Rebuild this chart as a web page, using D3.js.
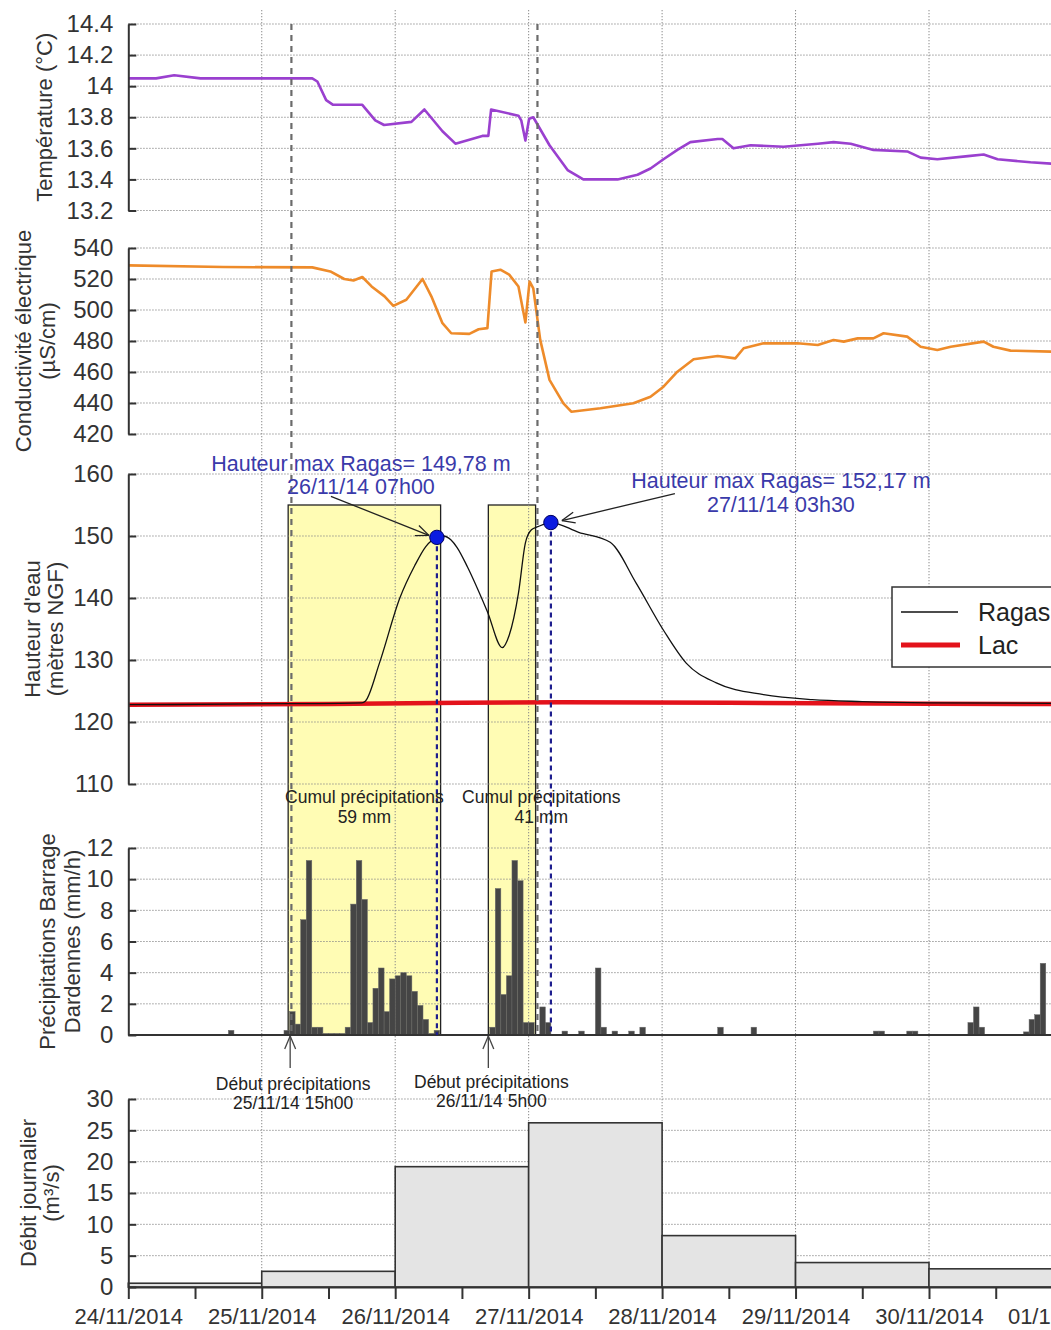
<!DOCTYPE html>
<html><head><meta charset="utf-8">
<script src="https://cdn.jsdelivr.net/npm/d3@7"></script>
<style>
html,body{margin:0;padding:0;background:#fff;overflow:hidden}
svg{display:block}
text{font-family:"Liberation Sans",Arial,sans-serif}
</style></head><body>
<svg id="chart" width="1051" height="1330"></svg>
<script>
// ---------------- DATA ----------------
const dayLabels = ["2014-11-24","2014-11-25","2014-11-26","2014-11-27","2014-11-28","2014-11-29","2014-11-30","2014-12-01"];
const tempTicks = [13.2,13.4,13.6,13.8,14.0,14.2,14.4];
const condTicks = [420,440,460,480,500,520,540];
const hautTicks = [110,120,130,140,150,160];
const precTicks = [0,2,4,6,8,10,12];
const debitTicks = [0,5,10,15,20,25,30];

const temperature = [
 ["2014-11-24 00:00",14.05],["2014-11-24 05:00",14.05],["2014-11-24 08:15",14.07],["2014-11-24 13:00",14.05],
 ["2014-11-25 09:05",14.05],["2014-11-25 10:00",14.03],["2014-11-25 11:35",13.91],["2014-11-25 12:50",13.88],
 ["2014-11-25 18:05",13.88],["2014-11-25 20:25",13.78],["2014-11-25 22:00",13.75],["2014-11-26 02:55",13.77],
 ["2014-11-26 05:15",13.85],["2014-11-26 08:30",13.71],["2014-11-26 10:50",13.63],["2014-11-26 15:40",13.68],
 ["2014-11-26 16:45",13.68],["2014-11-26 17:15",13.85],["2014-11-26 22:10",13.81],["2014-11-26 22:40",13.78],
 ["2014-11-26 23:25",13.65],["2014-11-27 00:05",13.79],["2014-11-27 00:50",13.80],["2014-11-27 03:45",13.62],
 ["2014-11-27 07:00",13.46],["2014-11-27 09:50",13.40],["2014-11-27 16:00",13.40],["2014-11-27 19:35",13.43],
 ["2014-11-27 21:55",13.47],["2014-11-28 00:15",13.53],["2014-11-28 02:45",13.59],["2014-11-28 05:05",13.64],
 ["2014-11-28 10:00",13.66],["2014-11-28 10:50",13.66],["2014-11-28 12:50",13.60],["2014-11-28 15:55",13.62],
 ["2014-11-28 21:50",13.61],["2014-11-29 04:00",13.63],["2014-11-29 06:50",13.64],["2014-11-29 09:55",13.63],
 ["2014-11-29 14:00",13.59],["2014-11-29 20:05",13.58],["2014-11-29 22:30",13.54],["2014-11-30 01:30",13.53],
 ["2014-11-30 07:00",13.55],["2014-11-30 09:50",13.56],["2014-11-30 12:20",13.53],["2014-11-30 18:15",13.51],
 ["2014-11-30 22:45",13.50]
];

const conductivity = [
 ["2014-11-24 00:00",528.8],["2014-11-24 17:05",527.7],["2014-11-25 09:05",527.5],["2014-11-25 12:20",524.9],
 ["2014-11-25 14:50",520.0],["2014-11-25 16:30",519.0],["2014-11-25 18:05",521.3],["2014-11-25 19:45",515.2],
 ["2014-11-25 22:05",508.8],["2014-11-25 23:40",502.7],["2014-11-26 02:00",506.6],["2014-11-26 04:55",520.0],
 ["2014-11-26 06:30",508.8],["2014-11-26 08:30",491.5],["2014-11-26 10:05",485.0],["2014-11-26 13:20",484.6],
 ["2014-11-26 15:00",487.6],["2014-11-26 16:35",488.3],["2014-11-26 17:20",524.9],["2014-11-26 18:55",526.0],
 ["2014-11-26 20:30",522.8],["2014-11-26 22:10",515.2],["2014-11-26 23:25",492.0],["2014-11-27 00:10",518.4],
 ["2014-11-27 00:50",514.0],["2014-11-27 02:05",480.7],["2014-11-27 03:45",454.9],["2014-11-27 06:15",439.8],
 ["2014-11-27 07:40",434.4],["2014-11-27 12:55",436.6],["2014-11-27 18:50",439.8],["2014-11-27 21:55",444.0],
 ["2014-11-28 00:15",450.5],["2014-11-28 02:45",460.2],["2014-11-28 05:40",468.2],["2014-11-28 10:00",470.3],
 ["2014-11-28 13:10",468.8],["2014-11-28 14:40",475.3],["2014-11-28 18:15",478.5],["2014-11-29 00:20",478.5],
 ["2014-11-29 04:00",477.4],["2014-11-29 06:50",480.6],["2014-11-29 08:40",479.6],["2014-11-29 11:10",481.7],
 ["2014-11-29 14:00",481.7],["2014-11-29 15:50",485.0],["2014-11-29 20:05",482.8],["2014-11-29 22:30",476.3],
 ["2014-11-30 01:30",474.2],["2014-11-30 03:55",476.3],["2014-11-30 09:50",479.6],["2014-11-30 11:35",476.3],
 ["2014-11-30 14:40",473.8],["2014-11-30 22:45",473.1]
];

const ragas = [
 ["2014-11-24 00:00",122.8],["2014-11-25 05:00",122.95],["2014-11-25 18:00",123.1],["2014-11-25 18:40",123.4],
 ["2014-11-25 21:10",129.5],["2014-11-26 00:50",140.0],["2014-11-26 03:30",145.2],["2014-11-26 05:30",148.3],
 ["2014-11-26 07:30",149.78],["2014-11-26 08:40",150.0],["2014-11-26 10:00",149.4],["2014-11-26 11:10",148.1],
 ["2014-11-26 13:00",145.0],["2014-11-26 16:35",137.8],["2014-11-26 19:15",132.0],["2014-11-26 20:30",134.0],
 ["2014-11-26 22:10",140.8],["2014-11-26 23:25",148.9],["2014-11-27 00:30",151.0],["2014-11-27 01:40",151.5],
 ["2014-11-27 04:00",152.17],["2014-11-27 09:00",150.6],["2014-11-27 14:40",149.0],["2014-11-27 19:20",142.4],
 ["2014-11-28 00:15",134.8],["2014-11-28 04:20",129.5],["2014-11-28 09:45",126.3],["2014-11-28 18:15",124.4],
 ["2014-11-29 03:00",123.6],["2014-11-29 12:00",123.3],["2014-11-30 00:00",123.1],["2014-12-01 00:00",123.0]
];

const lac = [
 ["2014-11-24 00:00",122.8],["2014-11-25 12:00",122.9],["2014-11-26 12:00",123.1],["2014-11-27 06:00",123.2],
 ["2014-11-28 12:00",123.1],["2014-11-30 00:00",122.95],["2014-12-01 00:00",122.9]
];

const precipHourly = [
 ["2014-11-24 18:00",0.3],["2014-11-25 04:00",0.3],["2014-11-25 05:00",1.5],["2014-11-25 06:00",0.7],
 ["2014-11-25 07:00",7.4],["2014-11-25 08:00",11.2],["2014-11-25 09:00",0.5],["2014-11-25 10:00",0.5],
 ["2014-11-25 11:00",0.1],["2014-11-25 12:00",0.1],["2014-11-25 13:00",0.1],["2014-11-25 14:00",0.1],
 ["2014-11-25 15:00",0.5],["2014-11-25 16:00",8.4],["2014-11-25 17:00",11.2],["2014-11-25 18:00",8.7],
 ["2014-11-25 19:00",0.8],["2014-11-25 20:00",3.0],["2014-11-25 21:00",4.3],["2014-11-25 22:00",1.5],
 ["2014-11-25 23:00",3.6],["2014-11-26 00:00",3.8],["2014-11-26 01:00",4.0],["2014-11-26 02:00",3.8],
 ["2014-11-26 03:00",2.8],["2014-11-26 04:00",1.9],["2014-11-26 05:00",1.0],["2014-11-26 06:00",0.1],
 ["2014-11-26 07:00",0.3],
 ["2014-11-26 17:00",0.5],["2014-11-26 18:00",9.4],["2014-11-26 19:00",2.6],["2014-11-26 20:00",3.8],
 ["2014-11-26 21:00",11.2],["2014-11-26 22:00",9.9],["2014-11-26 23:00",0.8],["2014-11-27 00:00",0.8],
 ["2014-11-27 02:00",1.8],["2014-11-27 03:00",0.8],["2014-11-27 06:00",0.25],["2014-11-27 09:00",0.25],
 ["2014-11-27 12:00",4.3],["2014-11-27 13:00",0.5],["2014-11-27 15:00",0.25],["2014-11-27 18:00",0.25],
 ["2014-11-27 20:00",0.5],["2014-11-28 10:00",0.5],["2014-11-28 16:00",0.5],
 ["2014-11-29 14:00",0.25],["2014-11-29 15:00",0.25],["2014-11-29 20:00",0.25],["2014-11-29 21:00",0.25],
 ["2014-11-30 07:00",0.8],["2014-11-30 08:00",1.8],["2014-11-30 09:00",0.5],
 ["2014-11-30 17:00",0.2],["2014-11-30 18:00",1.0],["2014-11-30 19:00",1.3],["2014-11-30 20:00",4.6]
];

const debitDates = ["2014-11-24","2014-11-25","2014-11-26","2014-11-27","2014-11-28","2014-11-29","2014-11-30"];
const debitValues = [0.6, 2.5, 19.2, 26.2, 8.2, 3.9, 2.9];

// rain episodes (highlight boxes) and event markers
const episodes = [
 {start:"2014-11-25 04:45", end:"2014-11-26 08:10", top:155, cumul:"59 mm", debut:"25/11/14 15h00"},
 {start:"2014-11-26 16:45", end:"2014-11-27 01:15", top:155, cumul:"41 mm", debut:"26/11/14 5h00"}
];
const grayMarkers = ["2014-11-25 05:20","2014-11-27 01:35"];
const peaks = [
 {time:"2014-11-26 07:30", value:149.78, l1:"Hauteur max Ragas= 149,78 m", l2:"26/11/14 07h00"},
 {time:"2014-11-27 04:00", value:152.17, l1:"Hauteur max Ragas= 152,17 m", l2:"27/11/14 03h30"}
];

// ---------------- CHART ----------------
const W = 1051;
const P = d3.utcParse("%Y-%m-%d %H:%M");
const PD = d3.utcParse("%Y-%m-%d");
const svg = d3.select("#chart");
const X0 = 128.3, DAY = 133.45;
const x = d3.scaleUtc().domain([PD("2014-11-24"), PD("2014-12-01")]).range([X0, X0 + 7*DAY]);

const yTemp = d3.scaleLinear().domain([13.2,14.4]).range([210.5,24]);
const yCond = d3.scaleLinear().domain([420,540]).range([434,248]);
const yHaut = d3.scaleLinear().domain([110,160]).range([784,474]);
const yPrec = d3.scaleLinear().domain([0,12]).range([1035,848]);
const yDeb  = d3.scaleLinear().domain([0,30]).range([1287,1099]);

const gridCol = "#8a8a8a", axisCol = "#333";

// yellow boxes (fill)
const gBox = svg.append("g");
episodes.forEach(e => {
  gBox.append("rect").attr("x", x(P(e.start))).attr("y", yHaut(e.top))
    .attr("width", x(P(e.end)) - x(P(e.start))).attr("height", yPrec(0) - yHaut(e.top))
    .attr("fill", "#fffcb4");
});

// gridlines
const gGrid = svg.append("g").attr("stroke", gridCol).attr("stroke-width", 1).attr("stroke-dasharray", "1.3,1.7");
[[yTemp,tempTicks],[yCond,condTicks],[yHaut,hautTicks],[yPrec,precTicks],[yDeb,debitTicks]].forEach(([s,t]) => {
  t.forEach(v => gGrid.append("line").attr("x1", X0).attr("x2", W).attr("y1", s(v)).attr("y2", s(v)));
});
dayLabels.slice(1).forEach(d => {
  gGrid.append("line").attr("x1", x(PD(d))).attr("x2", x(PD(d))).attr("y1", 10).attr("y2", yDeb(0));
});

// box outlines
episodes.forEach(e => {
  gBox.append("rect").attr("x", x(P(e.start))).attr("y", yHaut(e.top))
    .attr("width", x(P(e.end)) - x(P(e.start))).attr("height", yPrec(0) - yHaut(e.top))
    .attr("fill", "none").attr("stroke", "#222").attr("stroke-width", 1.3);
});

// debit bars
const hour = 3600*1000;
svg.append("g").selectAll("rect").data(debitDates.map((d,i)=>({d:PD(d), v:debitValues[i]}))).join("rect")
  .attr("x", d => x(d.d)).attr("width", d => x(new Date(+d.d + 24*hour)) - x(d.d))
  .attr("y", d => yDeb(d.v)).attr("height", d => yDeb(0) - yDeb(d.v))
  .attr("fill", "#e4e4e4").attr("stroke", "#333").attr("stroke-width", 1.6);

// precipitation bars
svg.append("g").selectAll("rect").data(precipHourly.map(d => ({t:P(d[0]), v:d[1]}))).join("rect")
  .attr("x", d => x(d.t)).attr("width", d => x(new Date(+d.t + hour)) - x(d.t))
  .attr("y", d => yPrec(d.v)).attr("height", d => yPrec(0) - yPrec(d.v))
  .attr("fill", "#454545").attr("stroke", "#6a6a6a").attr("stroke-width", 0.5);

// precipitation baseline
svg.append("line").attr("x1", X0).attr("x2", W).attr("y1", yPrec(0)).attr("y2", yPrec(0))
  .attr("stroke", axisCol).attr("stroke-width", 2);

// lines
const mk = (s) => d3.line().x(d => x(P(d[0]))).y(d => s(d[1]));
svg.append("path").attr("d", mk(yTemp)(temperature)).attr("fill","none").attr("stroke","#9a40cf").attr("stroke-width",2.6).attr("stroke-linejoin","round");
svg.append("path").attr("d", mk(yCond)(conductivity)).attr("fill","none").attr("stroke","#ee8b2a").attr("stroke-width",2.6).attr("stroke-linejoin","round");
svg.append("path").attr("d", mk(yHaut)(lac)).attr("fill","none").attr("stroke","#e3121b").attr("stroke-width",4.5);
svg.append("path").attr("d", mk(yHaut).curve(d3.curveMonotoneX)(ragas)).attr("fill","none").attr("stroke","#111").attr("stroke-width",1.3);

// gray dashed markers
grayMarkers.forEach(t => {
  svg.append("line").attr("x1", x(P(t))).attr("x2", x(P(t))).attr("y1", yTemp(14.4)).attr("y2", yPrec(0))
    .attr("stroke", "#6b6b6b").attr("stroke-width", 2.2).attr("stroke-dasharray", "6,5");
});

// arrow helper
function arrow(x1, y1, x2, y2, color) {
  const a = Math.atan2(y1 - y2, x1 - x2), len = 14, ang = 0.4;
  const g = svg.append("g").attr("stroke", color).attr("stroke-width", 1.3).attr("fill","none");
  g.append("line").attr("x1",x1).attr("y1",y1).attr("x2",x2).attr("y2",y2);
  [a+ang, a-ang].forEach(b => g.append("line").attr("x1",x2).attr("y1",y2)
    .attr("x2",x2+len*Math.cos(b)).attr("y2",y2+len*Math.sin(b)));
}

// peaks
peaks.forEach((p,i) => {
  const px = x(P(p.time)), py = yHaut(p.value);
  svg.append("line").attr("x1", px).attr("x2", px).attr("y1", py).attr("y2", yPrec(0))
    .attr("stroke", "#1d1d8e").attr("stroke-width", 2.2).attr("stroke-dasharray", "5,4");
  svg.append("circle").attr("cx", px).attr("cy", py).attr("r", 7.2)
    .attr("fill", "#0b1be0").attr("stroke", "#000060").attr("stroke-width", 1);
  const t = svg.append("g").attr("fill", "#3a3aaa").attr("font-size", "21.5px").attr("text-anchor", "middle");
  if (i === 0) {
    arrow(px - 106, py - 41, px - 8, py - 2, "#222");
    t.append("text").attr("x", px - 76).attr("y", py - 66).text(p.l1);
    t.append("text").attr("x", px - 76).attr("y", py - 43).text(p.l2);
  } else {
    arrow(px + 124, py - 29, px + 11, py - 2, "#222");
    t.append("text").attr("x", px + 230).attr("y", py - 35).text(p.l1);
    t.append("text").attr("x", px + 230).attr("y", py - 11).text(p.l2);
  }
});

// episode annotations
episodes.forEach((e,i) => {
  const xs = x(P(e.start)), xe = x(P(e.end));
  const cx = i === 0 ? (xs + xe) / 2 : xs + 53;
  const g = svg.append("g").attr("fill", "#222").attr("font-size", "17.5px").attr("text-anchor", "middle");
  g.append("text").attr("x", cx).attr("y", 803).text("Cumul précipitations");
  g.append("text").attr("x", cx).attr("y", 823).text(e.cumul);
  const ax = xs + (i === 0 ? 2 : 0);
  arrow(ax, 1068, ax, yPrec(0) + 1, "#444");
  const dx = xs + (i === 0 ? 5 : 3);
  g.append("text").attr("x", dx).attr("y", i === 0 ? 1090 : 1088).text("Début précipitations");
  g.append("text").attr("x", dx).attr("y", i === 0 ? 1109 : 1107).text(e.debut);
});

// y axes
function yAxis(s, ticks, fmt) {
  const g = svg.append("g").attr("transform", `translate(${X0},0)`)
    .call(d3.axisLeft(s).tickValues(ticks).tickFormat(fmt).tickSizeInner(-8).tickSizeOuter(0).tickPadding(15));
  g.select(".domain").attr("stroke", axisCol).attr("stroke-width", 2);
  g.selectAll(".tick line").attr("stroke", axisCol).attr("stroke-width", 2);
  g.selectAll(".tick text").attr("fill", "#333").attr("font-size", "24px")
    .attr("font-family", '"Liberation Sans",Arial,sans-serif');
  return g;
}
yAxis(yTemp, tempTicks, v => String(+v.toFixed(1)));
yAxis(yCond, condTicks, d3.format("d"));
yAxis(yHaut, hautTicks, d3.format("d"));
yAxis(yPrec, precTicks, d3.format("d"));
yAxis(yDeb, debitTicks, d3.format("d"));

// x axis
const halfDays = d3.range(0, 15).map(i => new Date(+PD("2014-11-24") + i*12*hour));
const gx = svg.append("g").attr("transform", `translate(0,${yDeb(0)})`)
  .call(d3.axisBottom(x).tickValues(halfDays).tickSizeInner(12).tickSizeOuter(0).tickPadding(9.5)
    .tickFormat(d => d.getUTCHours() === 0 ? d3.utcFormat("%d/%m/%Y")(d) : ""));
gx.select(".domain").attr("stroke", axisCol).attr("stroke-width", 2.2);
gx.selectAll(".tick line").attr("stroke", axisCol).attr("stroke-width", 2);
gx.selectAll(".tick text").attr("fill", "#333").attr("font-size", "22px")
  .attr("font-family", '"Liberation Sans",Arial,sans-serif');

// y titles
function title(lines, cy) {
  lines.forEach(([txt, xx]) => {
    svg.append("text").attr("transform", `translate(${xx},${cy}) rotate(-90)`)
      .attr("text-anchor", "middle").attr("dominant-baseline", "central")
      .attr("font-size", "22px").attr("fill", "#333").text(txt);
  });
}
title([["Température (°C)", 44]], (yTemp(13.2)+yTemp(14.4))/2);
title([["Conductivité électrique", 23], ["(µS/cm)", 47]], (yCond(420)+yCond(540))/2);
title([["Hauteur d'eau", 32], ["(mètres NGF)", 55]], (yHaut(110)+yHaut(160))/2);
title([["Précipitations Barrage", 47], ["Dardennes (mm/h)", 72]], (yPrec(0)+yPrec(12))/2);
title([["Débit journalier", 28], ["(m³/s)", 51]], (yDeb(0)+yDeb(30))/2);

// legend
const lg = svg.append("g").attr("transform", "translate(892,587)");
lg.append("rect").attr("width", 200).attr("height", 80).attr("fill", "#fff").attr("stroke", "#333").attr("stroke-width", 1.5);
lg.append("line").attr("x1", 9).attr("x2", 66).attr("y1", 25).attr("y2", 25).attr("stroke", "#111").attr("stroke-width", 1.3);
lg.append("line").attr("x1", 9).attr("x2", 68).attr("y1", 58).attr("y2", 58).attr("stroke", "#e3121b").attr("stroke-width", 5);
lg.append("text").attr("x", 86).attr("y", 25).attr("dominant-baseline", "central").attr("font-size", "25px").attr("fill", "#222").text("Ragas");
lg.append("text").attr("x", 86).attr("y", 58).attr("dominant-baseline", "central").attr("font-size", "25px").attr("fill", "#222").text("Lac");
</script>
</body></html>
